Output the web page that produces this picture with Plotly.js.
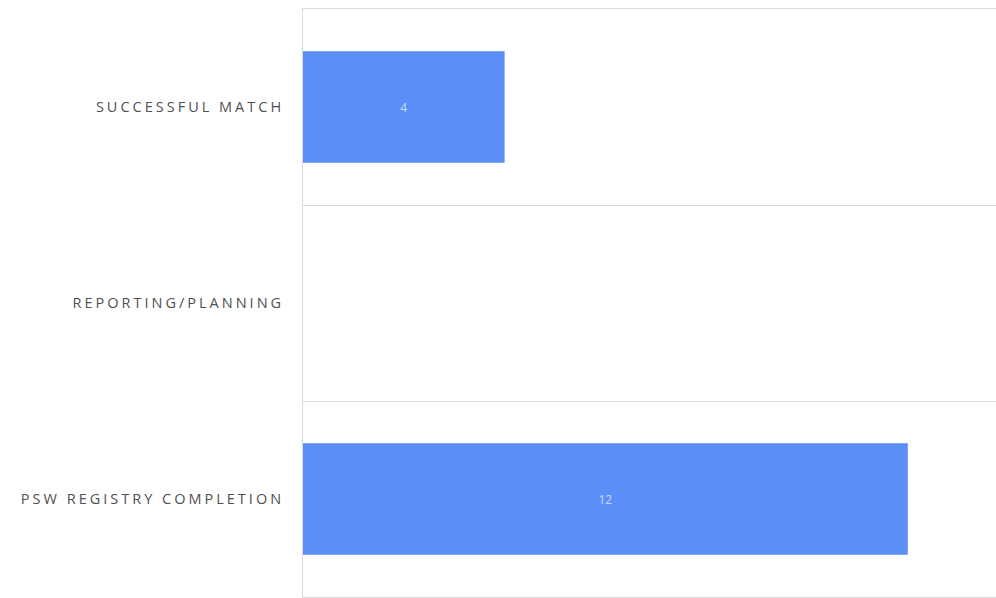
<!DOCTYPE html>
<html>
<head>
<meta charset="utf-8">
<script src="https://cdn.plot.ly/plotly-3.0.1.min.js"></script>
<style>
html,body{margin:0;padding:0;background:#fff;}
#chart{width:996px;height:598px;}
.ytick text{letter-spacing:3px;}
</style>
</head>
<body>
<div id="chart"></div>
<script>
const categories = ['PSW REGISTRY COMPLETION', 'REPORTING/PLANNING', 'SUCCESSFUL MATCH'];
const values = [12, 0, 4];
const labels = values.map(v => v ? String(v) : '');

const trace = {
  type: 'bar',
  orientation: 'h',
  y: categories,
  x: values,
  text: labels,
  textposition: 'inside',
  insidetextanchor: 'middle',
  textfont: {family: 'Open Sans, sans-serif', size: 12, color: 'rgba(225,235,255,0.85)'},
  marker: {color: '#5b8ff7'},
  hoverinfo: 'none'
};

const layout = {
  width: 996,
  height: 598,
  margin: {l: 303, r: 0, t: 9, b: 1},
  paper_bgcolor: '#ffffff',
  plot_bgcolor: '#ffffff',
  bargap: 0.43,
  showlegend: false,
  xaxis: {
    range: [0, 13.75],
    showticklabels: false,
    showgrid: false,
    zeroline: false,
    showline: true,
    mirror: true,
    linecolor: '#d9d9d9',
    linewidth: 1,
    fixedrange: true
  },
  yaxis: {
    type: 'category',
    tickson: 'boundaries',
    showgrid: true,
    gridcolor: '#d9d9d9',
    gridwidth: 1,
    showline: true,
    linecolor: '#d9d9d9',
    linewidth: 1,
    ticks: '',
    ticklabelstandoff: 15,
    tickfont: {family: 'Open Sans, sans-serif', size: 14.5, color: '#505050'},
    fixedrange: true
  }
};

Plotly.newPlot('chart', [trace], layout, {displayModeBar: false, staticPlot: true});
</script>
</body>
</html>
